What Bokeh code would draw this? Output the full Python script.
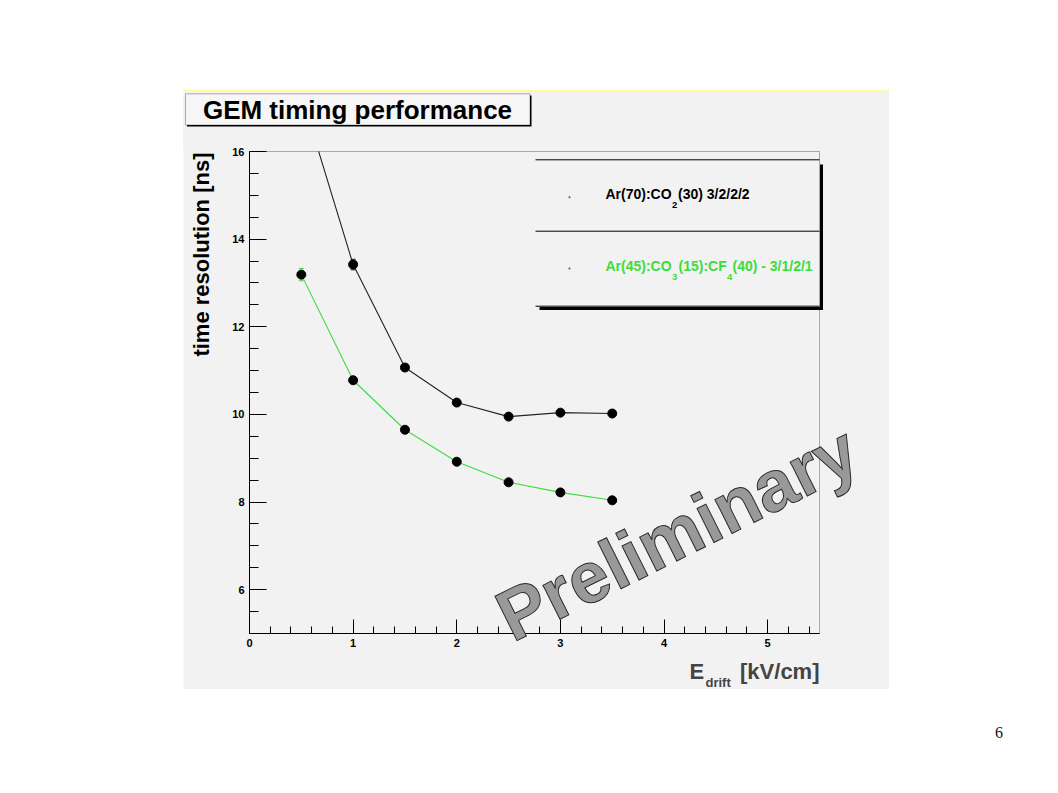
import math
from bokeh.plotting import figure
from bokeh.models import Label, BoxAnnotation, SingleIntervalTicker, Div, Spacer, LinearAxis
from bokeh.layouts import column, row
from bokeh.embed import file_html
from bokeh.resources import INLINE

# ---------------- data ----------------
e_drift = [0.5, 1.0, 1.5, 2.0, 2.5, 3.0, 3.5]
res_arco2 = [17.3, 13.42, 11.07, 10.27, 9.95, 10.04, 10.02]
err_arco2 = [0.20, 0.12, 0.06, 0.05, 0.05, 0.05, 0.05]
res_arco2cf4 = [13.19, 10.78, 9.65, 8.92, 8.45, 8.22, 8.04]
err_arco2cf4 = [0.14, 0.06, 0.05, 0.05, 0.04, 0.04, 0.04]

title_text = "GEM timing performance"
ytitle_text = "time resolution [ns]"
# legend entries as (text, is_subscript) pieces
legend_pieces = [
    [("Ar(70):CO", False), ("2", True), ("(30) 3/2/2/2", False)],
    [("Ar(45):CO", False), ("3", True), ("(15):CF", False), ("4", True), ("(40) - 3/1/2/1", False)],
]
watermark = "Preliminary"
page_number = "6"

# ---------------- geometry / style ----------------
X_AXIS = (0, 5.5)
Y_AXIS = (5, 16)
PX0, PY0 = 183, 91          # panel origin on page
W_PANEL, H_PANEL = 706, 598
FX0, FX1, FY0, FY1 = 249, 819, 151, 633   # inner plot frame on page
FONT = "Liberation Sans"
PANEL = "#f2f2f2"
BLACK_LINE = "#222222"
GREEN = "#3ddc3d"


def X(px):
    return X_AXIS[0] + (px - FX0) * (X_AXIS[1] - X_AXIS[0]) / (FX1 - FX0)


def Y(py):
    return Y_AXIS[1] - (py - FY0) * (Y_AXIS[1] - Y_AXIS[0]) / (FY1 - FY0)


p = figure(width=W_PANEL, height=H_PANEL,
           x_range=(X(PX0), X(PX0 + W_PANEL)), y_range=(Y(PY0 + H_PANEL), Y(PY0)),
           x_axis_location=None, y_axis_location=None,
           output_backend="svg", toolbar_location=None, title=None,
           min_border=0, background_fill_color=PANEL, border_fill_color=PANEL)
p.grid.visible = False
p.outline_line_color = None

xaxis = LinearAxis(fixed_location=Y_AXIS[0], bounds=X_AXIS,
                   ticker=SingleIntervalTicker(interval=1, num_minor_ticks=5))
yaxis = LinearAxis(fixed_location=X_AXIS[0], bounds=Y_AXIS,
                   ticker=SingleIntervalTicker(interval=2, num_minor_ticks=4))
p.add_layout(xaxis, "below")
p.add_layout(yaxis, "left")
for ax, maj, mnr in ((xaxis, 14, 7), (yaxis, 17, 9)):
    ax.major_tick_in = maj
    ax.major_tick_out = 0
    ax.minor_tick_in = mnr
    ax.minor_tick_out = 0
    ax.major_tick_line_color = "black"
    ax.minor_tick_line_color = "black"
    ax.axis_line_color = "black"
    ax.major_label_text_font = FONT
    ax.major_label_text_font_style = "bold"
    ax.major_label_text_font_size = "11px"
    ax.major_label_text_color = "black"
    ax.major_label_standoff = 5

# ---------------- series ----------------
series = [(res_arco2, err_arco2, BLACK_LINE), (res_arco2cf4, err_arco2cf4, GREEN)]
for ys, es, col in series:
    p.line(e_drift, ys, line_color=col, line_width=1.1)
    # markers / error bars only for points inside the plotted range (as ROOT does)
    inside = [i for i, y in enumerate(ys) if Y_AXIS[0] <= y <= Y_AXIS[1]]
    xs_in = [e_drift[i] for i in inside]
    ys_in = [ys[i] for i in inside]
    lo = [ys[i] - es[i] for i in inside]
    hi = [ys[i] + es[i] for i in inside]
    p.segment(x0=xs_in, y0=lo, x1=xs_in, y1=hi, line_color=col, line_width=1)
    p.scatter(xs_in, hi, marker="dash", size=5, line_color=col)
    p.scatter(xs_in, lo, marker="dash", size=5, line_color=col)
    p.scatter(xs_in, ys_in, marker="circle", size=9, fill_color="black", line_color="black")

# hide whatever lies above / right of the plotted range (ROOT clips to its frame)
p.quad(left=[X(PX0) - 1], right=[X(PX0 + W_PANEL) + 1], bottom=[Y_AXIS[1]], top=[Y(PY0) + 1],
       fill_color=PANEL, line_alpha=0)
p.quad(left=[X_AXIS[1]], right=[X(PX0 + W_PANEL) + 1], bottom=[Y(PY0 + H_PANEL) - 1], top=[Y(PY0) + 1],
       fill_color=PANEL, line_alpha=0)

# plot frame
p.add_layout(BoxAnnotation(left=X_AXIS[0], right=X_AXIS[1], bottom=Y_AXIS[0], top=Y_AXIS[1],
                           fill_alpha=0, line_color="black", line_width=1))

# ---------------- legend ----------------
for py in (159.3, 230.7, 305.7):
    p.segment(x0=[X(535)], y0=[Y(py)], x1=[X(819)], y1=[Y(py)], line_color="black", line_width=1)
p.add_layout(BoxAnnotation(left=X(819.5), right=X(822.5), top=Y(164), bottom=Y(309.5),
                           fill_color="black", fill_alpha=1, line_alpha=0))
p.add_layout(BoxAnnotation(left=X(539), right=X(822.5), top=Y(306.5), bottom=Y(309.5),
                           fill_color="black", fill_alpha=1, line_alpha=0))
p.scatter([X(569), X(569)], [Y(196.7), Y(268)], size=1.5, color="#777777")

legend_x = [[605, 671.5, 677.5], [605, 671.5, 678, 726.5, 732]]
legend_y = [193.8, 265.5]
for pieces, xs_px, py, col in zip(legend_pieces, legend_x, legend_y, ["black", GREEN]):
    for (txt, sub), px in zip(pieces, xs_px):
        p.add_layout(Label(x=X(px), y=Y(py + (10.5 if sub else 0)), text=txt, text_color=col,
                           text_font=FONT, text_font_style="bold",
                           text_font_size="9.5px" if sub else "14px",
                           text_align="left", text_baseline="alphabetic"))

# ---------------- title box ----------------
p.add_layout(BoxAnnotation(left=X(186.5), right=X(531), top=Y(95), bottom=Y(126),
                           fill_color="black", fill_alpha=1, line_alpha=0))
p.add_layout(BoxAnnotation(left=X(185), right=X(529.5), top=Y(93.3), bottom=Y(124.5),
                           fill_color="#f6f6f6", fill_alpha=1, line_color="black", line_width=1))
p.add_layout(Label(x=X(357), y=Y(109.5), text=title_text, text_font=FONT, text_font_style="bold",
                   text_font_size="26px", text_align="center", text_baseline="alphabetic",
                   text_color="black"))

# ---------------- axis titles ----------------
p.add_layout(Label(x=X(201), y=Y(152), text=ytitle_text, angle=math.pi / 2, text_font=FONT,
                   text_font_style="bold", text_font_size="22px", text_align="right",
                   text_baseline="alphabetic", text_color="black"))
p.add_layout(Label(x=X(689), y=Y(671), text="E", text_font=FONT, text_font_style="bold",
                   text_font_size="22px", text_align="left", text_baseline="alphabetic"))
p.add_layout(Label(x=X(705), y=Y(682), text="drift", text_font=FONT, text_font_style="bold",
                   text_font_size="13px", text_align="left", text_baseline="alphabetic"))
p.add_layout(Label(x=X(819), y=Y(671), text="[kV/cm]", text_font=FONT, text_font_style="bold",
                   text_font_size="22px", text_align="right", text_baseline="alphabetic"))

# ---------------- watermark ----------------
wm_kw = dict(x=X(501), y=Y(620), text=watermark, angle=math.radians(26.5), text_font=FONT,
             text_font_style="bold", text_font_size="72px", text_align="left",
             text_baseline="alphabetic", text_color="#999999")
try:
    wm = Label(text_outline_color="#2a2a2a", **wm_kw)
except Exception:
    wm = Label(**wm_kw)
p.add_layout(wm)

# ---------------- page layout ----------------
top_line = Spacer(width=W_PANEL, height=1, styles={"background-color": "#fff7a0"})
div = Div(text=page_number, width=20, height=20, margin=(0, 0, 0, 0),
          styles={"font-family": "Liberation Serif", "font-size": "16px", "color": "#111111"})
layout = column(
    Spacer(height=90),
    row(Spacer(width=PX0), column(top_line, p)),
    Spacer(height=33),
    row(Spacer(width=995), div),
)

open("out.html", "w").write(file_html(layout, INLINE))
